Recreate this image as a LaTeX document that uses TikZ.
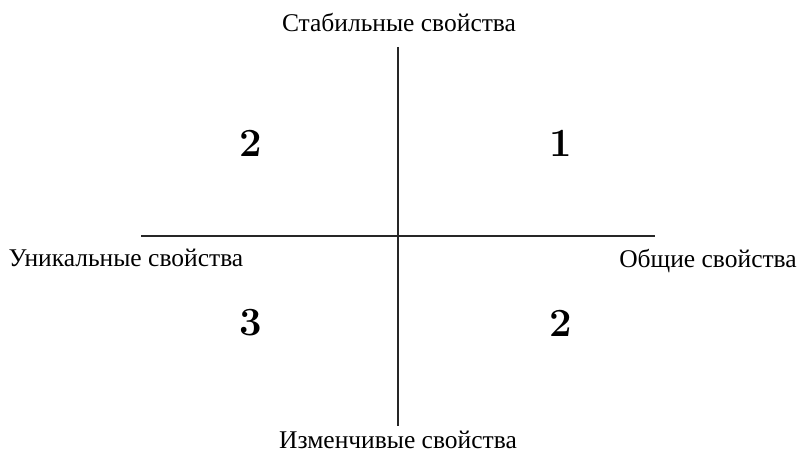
\documentclass[tikz,border=0pt]{standalone}
\usepackage{fontspec}
\setmainfont{Liberation Serif}
\newfontfamily\numfont{Latin Modern Roman}
\begin{document}
\begin{tikzpicture}[x=1pt,y=1pt,
  axis/.style={line width=1.1pt, black!85},
  lab/.style={font=\fontsize{25.5}{30}\selectfont, inner sep=0pt},
  num/.style={font=\numfont\bfseries\fontsize{40}{44}\selectfont, inner sep=0pt}]
\useasboundingbox (0,0) rectangle (799,457);
\coordinate (T) at (398,410);
\coordinate (B) at (398,31);
\coordinate (L) at (141,221);
\coordinate (R) at (655,221);
\draw[axis] (T) -- (B);
\draw[axis] (L) -- (R);
\node[lab] (top) at (399,434) {Стабильные свойства};
\node[lab] (left) at (126,199) {Уникальные свойства};
\node[lab] (right) at (708,196) {Общие свойства};
\node[lab] (bottom) at (398,17) {Изменчивые свойства};
\node[num] (q2a) at (251,314) {2};
\node[num] (q1) at (561,314) {1};
\node[num] (q3) at (251,134) {3};
\node[num] (q2b) at (561,134) {2};
\end{tikzpicture}
\end{document}
